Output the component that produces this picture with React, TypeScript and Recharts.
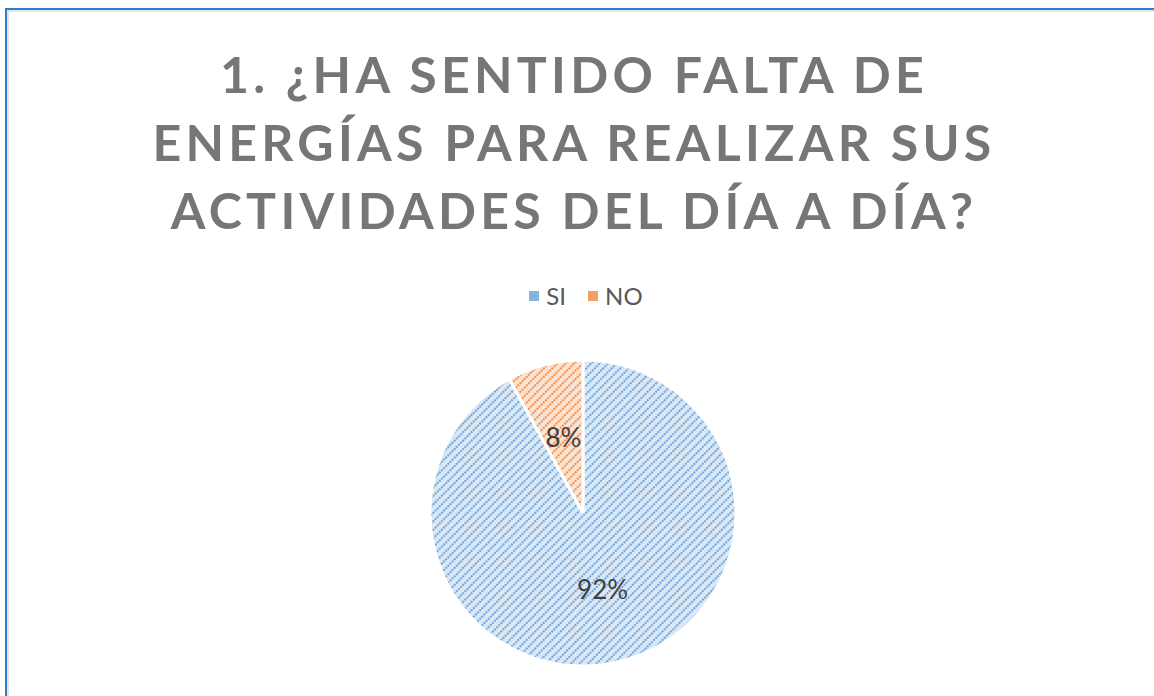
import React from "react";
import { PieChart, Pie, Cell, Legend } from "recharts";

const categories = ["SI", "NO"];
const values = [92, 8];
const percentLabels = ["92%", "8%"];
const titleLines = [
  "1. ¿HA SENTIDO FALTA DE",
  "ENERGÍAS PARA REALIZAR SUS",
  "ACTIVIDADES DEL DÍA A DÍA?",
];

const data = categories.map((name, i) => ({ name, value: values[i], label: percentLabels[i] }));
const fills = ["url(#hatchBlue)", "url(#hatchOrange)"];
const solid = ["#5b9bd5", "#ed7d31"];

const RAD = Math.PI / 180;
const renderLabel = (props: any) => {
  const { cx, cy, midAngle, outerRadius, index } = props;
  const r = outerRadius * 0.515;
  const x = cx + r * Math.cos(-midAngle * RAD);
  const y = cy + r * Math.sin(-midAngle * RAD);
  return (
    <text
      x={x}
      y={y}
      textAnchor="middle"
      dominantBaseline="central"
      fill="#404040"
      style={{ fontFamily: "Lato, 'Open Sans', sans-serif", fontSize: 26 }}
    >
      {data[index].label}
    </text>
  );
};

const LegendContent = () => (
  <div style={{ display: "flex", justifyContent: "center", alignItems: "center", fontFamily: "Lato, 'Open Sans', sans-serif", fontSize: 24, color: "#595959", paddingLeft: 18 }}>
    {data.map((d, i) => (
      <div key={d.name} style={{ display: "flex", alignItems: "center", marginRight: i === 0 ? 22 : 0 }}>
        <svg width={10} height={10} style={{ marginRight: 7 }}>
          <rect width={10} height={10} fill={solid[i]} opacity={0.75} />
        </svg>
        <span>{d.name}</span>
      </div>
    ))}
  </div>
);

export default function App() {
  return (
    <div style={{ position: "fixed", left: 0, top: 0, width: 1154, height: 696, background: "#ffffff", overflow: "hidden" }}>
      <div style={{ position: "absolute", left: 5, top: 8, width: 1200, height: 760, borderLeft: "2px solid #2f7dc8", borderTop: "2px solid #2f7dc8" }} />
      <div style={{ position: "absolute", left: 7, top: 10, width: 1200, height: 760, borderLeft: "2px solid #e4e4e4", borderTop: "2px solid #e4e4e4" }} />
      <div
        style={{
          position: "absolute",
          left: 0,
          top: 40,
          width: 1148,
          textAlign: "center",
          fontFamily: "Lato, 'Open Sans', sans-serif",
          fontWeight: 700,
          fontSize: 50,
          lineHeight: "68px",
          letterSpacing: 4.3,
          color: "#767676",
        }}
      >
        {titleLines.map((t) => (
          <div key={t}>{t}</div>
        ))}
      </div>
      <div style={{ position: "absolute", left: 0, top: 0 }}>
        <PieChart width={1154} height={696}>
          <defs>
            <pattern id="hatchBlue" width={6} height={6} patternUnits="userSpaceOnUse" patternTransform="rotate(-45)">
              <rect width={6} height={6} fill="#dae7f5" />
              <line x1={0} y1={3} x2={6} y2={3} stroke="#6fa5da" strokeWidth={2} strokeDasharray="2 1" />
            </pattern>
            <pattern id="hatchOrange" width={6} height={6} patternUnits="userSpaceOnUse" patternTransform="rotate(-45)">
              <rect width={6} height={6} fill="#fbe2d1" />
              <line x1={0} y1={3} x2={6} y2={3} stroke="#f0904e" strokeWidth={2} strokeDasharray="2 1" />
            </pattern>
          </defs>
          <Legend
            verticalAlign="top"
            content={<LegendContent />}
            wrapperStyle={{ top: 281, left: 0, width: 1154 }}
          />
          <Pie
            data={data}
            dataKey="value"
            nameKey="name"
            cx={578}
            cy={479}
            outerRadius={153}
            startAngle={90}
            endAngle={-270}
            stroke="#ffffff"
            strokeWidth={3}
            label={renderLabel}
            labelLine={false}
            isAnimationActive={false}
          >
            {data.map((d, i) => (
              <Cell key={d.name} fill={fills[i]} />
            ))}
          </Pie>
        </PieChart>
      </div>
    </div>
  );
}
